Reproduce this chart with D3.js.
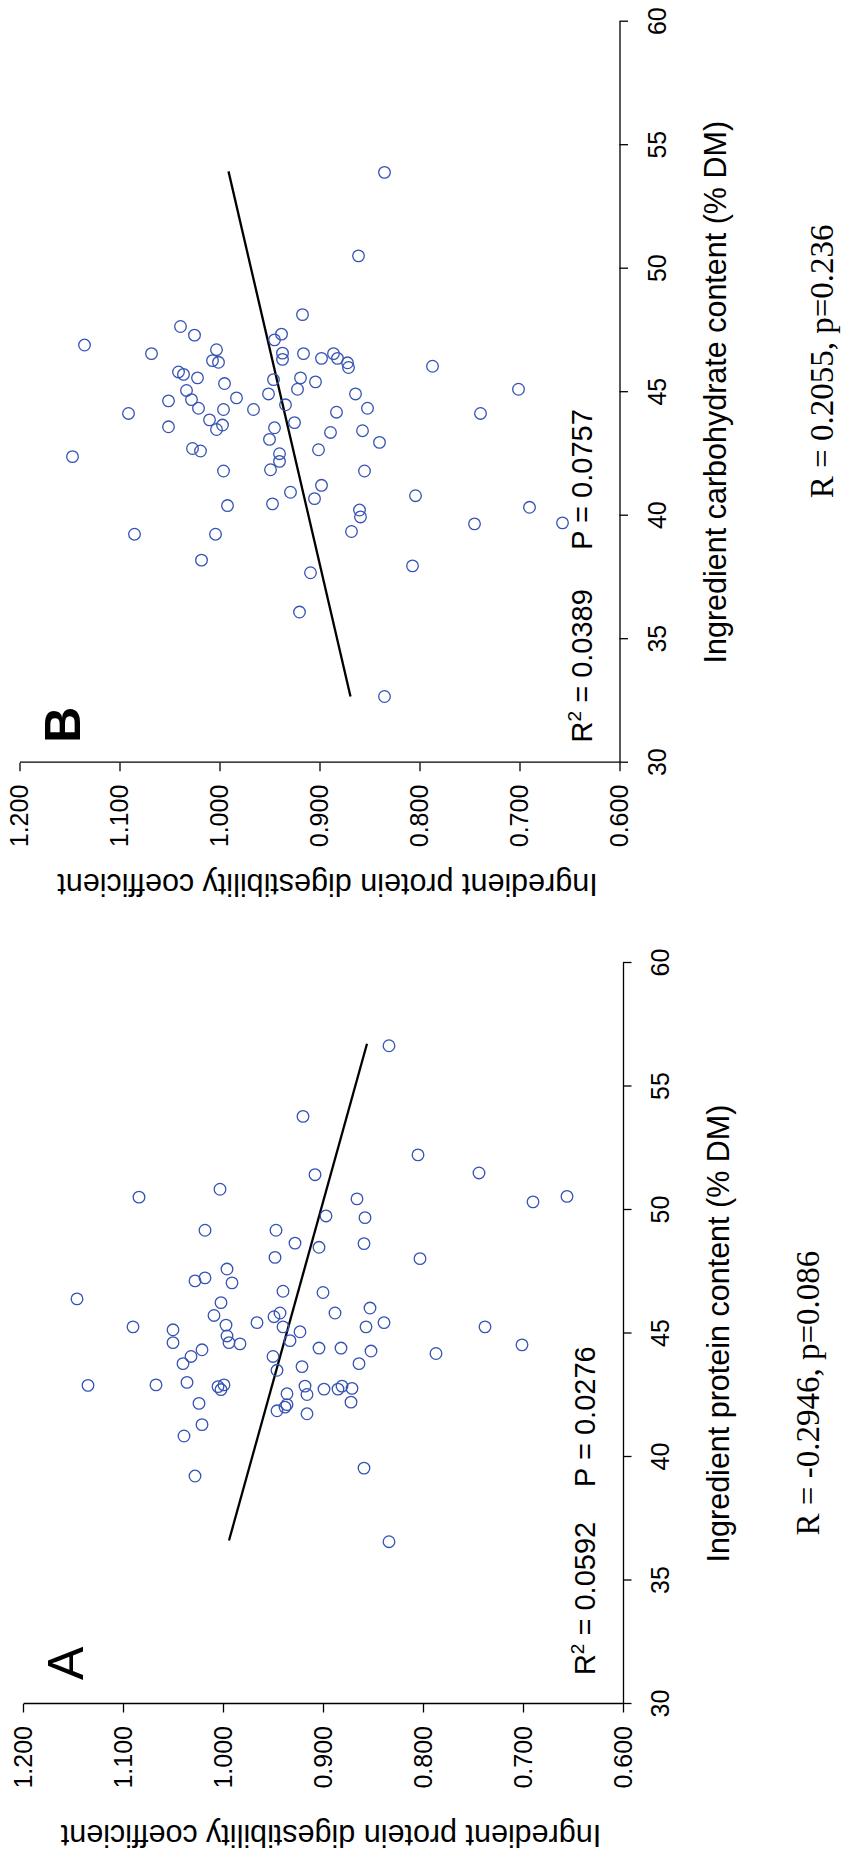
<!DOCTYPE html>
<html>
<head>
<meta charset="utf-8">
<title>Protein digestibility vs protein / carbohydrate content</title>
<script src="https://cdn.jsdelivr.net/npm/d3@7"></script>
<style>
  body { margin: 0; background: #fff; }
  text { font-family: "Liberation Sans", Arial, sans-serif; fill: #000; }
</style>
</head>
<body>
<div id="chart"></div>
<script>

// ---- data ----
var xTicks = [30, 35, 40, 45, 50, 55, 60];
var yTicks = [0.6, 0.7, 0.8, 0.9, 1.0, 1.1, 1.2];

// panel A: ingredient protein content (% DM) vs digestibility coefficient
var proteinA = [46.40, 42.90, 45.27, 50.52, 42.92, 45.15, 44.63, 43.78, 40.85, 43.02,
  44.07, 39.23, 47.13, 42.17, 44.34, 41.31, 49.18, 47.25, 45.73, 42.85,
  42.73, 50.84, 46.25, 42.92, 45.34, 47.61, 44.90, 44.63, 47.05, 44.58,
  45.44, 44.07, 48.08, 49.18, 45.68, 43.51, 41.87, 45.83, 46.71, 45.27,
  42.56, 42.12, 42.02, 44.71, 48.66, 45.07, 43.66, 53.79, 42.87, 42.53,
  41.75, 51.43, 48.49, 44.41, 46.66, 42.75, 49.76, 45.83, 42.75, 44.41,
  42.87, 42.22, 42.78, 50.45, 43.78, 48.64, 39.55, 49.69, 45.27, 46.03,
  44.29, 45.44, 56.65, 36.57, 48.03, 52.23, 44.19, 51.50, 45.27, 44.54,
  50.33, 50.55];
var digA = [1.146, 1.135, 1.090, 1.084, 1.067, 1.050, 1.050, 1.040, 1.039, 1.036,
  1.032, 1.028, 1.028, 1.024, 1.021, 1.021, 1.018, 1.018, 1.009, 1.005,
  1.002, 1.003, 1.002, 0.999, 0.997, 0.996, 0.996, 0.994, 0.991, 0.983,
  0.966, 0.950, 0.948, 0.947, 0.949, 0.946, 0.946, 0.943, 0.940, 0.940,
  0.936, 0.936, 0.938, 0.933, 0.928, 0.923, 0.921, 0.920, 0.918, 0.916,
  0.916, 0.908, 0.904, 0.904, 0.900, 0.899, 0.897, 0.888, 0.885, 0.882,
  0.881, 0.872, 0.871, 0.866, 0.864, 0.859, 0.859, 0.858, 0.857, 0.853,
  0.852, 0.839, 0.834, 0.834, 0.803, 0.805, 0.787, 0.744, 0.738, 0.701,
  0.690, 0.656];

// panel B: ingredient carbohydrate content (% DM) vs digestibility coefficient
var carbB = [42.39, 46.91, 44.14, 39.25, 46.56, 44.65, 43.60, 45.82, 47.66, 45.72,
  45.07, 44.70, 42.72, 47.31, 45.58, 44.35, 42.62, 38.20, 43.88, 46.28,
  46.72, 43.49, 39.25, 46.21, 43.67, 44.30, 41.81, 45.35, 40.41, 44.77,
  44.30, 44.93, 43.09, 41.86, 40.48, 45.51, 43.56, 47.12, 42.51, 42.20,
  47.35, 46.58, 46.33, 44.49, 40.95, 43.77, 45.12, 36.10, 45.58, 48.14,
  46.56, 37.69, 40.69, 45.42, 42.67, 46.37, 41.23, 43.37, 46.56, 44.19,
  46.37, 46.19, 46.00, 39.36, 44.93, 50.52, 40.23, 39.95, 43.44, 41.81,
  44.35, 42.97, 53.90, 32.68, 37.97, 40.81, 46.05, 39.67, 44.14, 45.12,
  40.34, 39.71];
var digB = [1.147, 1.135, 1.091, 1.085, 1.068, 1.051, 1.051, 1.041, 1.039, 1.036,
  1.033, 1.028, 1.027, 1.025, 1.022, 1.021, 1.019, 1.018, 1.010, 1.007,
  1.003, 1.003, 1.004, 1.001, 0.997, 0.996, 0.996, 0.995, 0.992, 0.983,
  0.966, 0.951, 0.950, 0.949, 0.947, 0.946, 0.945, 0.945, 0.940, 0.940,
  0.938, 0.937, 0.937, 0.934, 0.929, 0.925, 0.922, 0.920, 0.919, 0.917,
  0.916, 0.909, 0.905, 0.904, 0.901, 0.898, 0.898, 0.889, 0.886, 0.883,
  0.882, 0.872, 0.871, 0.868, 0.864, 0.861, 0.860, 0.859, 0.857, 0.855,
  0.852, 0.840, 0.835, 0.835, 0.807, 0.804, 0.787, 0.745, 0.739, 0.701,
  0.690, 0.657];

// fitted lines (end points as drawn)
var fitA = [[36.62, 0.994], [56.73, 0.856]];
var fitB = [[32.68, 0.869], [53.94, 0.991]];

var statsA = ["0.0592", "0.0276"];
var statsB = ["0.0389", "0.0757"];
var corrA = "R = -0.2946, p=0.086";
var corrB = "R = 0.2055, p=0.236";

// ---- drawing ----
var W = 845, H = 1854;
var plotW = 741, plotH = 600;   // unrotated plot size

var svg = d3.select("#chart").append("svg")
    .attr("width", W)
    .attr("height", H);

// each panel is a normal R style plot turned a quarter turn anticlockwise
var panels = [
  { letter: "B", bold: true, tx: 19.5, ty: 762.7, xs: carbB, ys: digB, fit: fitB, stats: statsB,
    r2At: 30.82, pAt: 38.62, corr: corrB, corrAt: 46.25, corrV: 813, ytitleV: -111,
    xtitle: "Ingredient carbohydrate content (% DM)" },
  { letter: "A", bold: false, tx: 23, ty: 1704, xs: proteinA, ys: digA, fit: fitA, stats: statsA,
    r2At: 31.17, pAt: 38.79, corr: corrA, corrAt: 42.59, corrV: 796, ytitleV: -121,
    xtitle: "Ingredient protein content (% DM)" }
];

panels.forEach(function(p) {
  var g = svg.append("g")
      .attr("transform", "translate(" + p.tx + "," + p.ty + ") rotate(-90)");

  var x = d3.scaleLinear().domain([30, 60]).range([0, plotW]);
  var y = d3.scaleLinear().domain([0.6, 1.2]).range([plotH, 0]);

  var xAxis = d3.axisBottom(x)
      .tickValues(xTicks)
      .tickSize(8.5)
      .tickSizeOuter(0)
      .tickPadding(20)
      .tickFormat(d3.format("d"));

  var yAxis = d3.axisLeft(y)
      .tickValues(yTicks)
      .tickSize(8.5)
      .tickSizeOuter(0)
      .tickPadding(13.5)
      .tickFormat(d3.format(".3f"));

  var gx = g.append("g")
      .attr("class", "x axis")
      .attr("transform", "translate(0," + plotH + ")")
      .call(xAxis);
  var gy = g.append("g")
      .attr("class", "y axis")
      .call(yAxis);

  [gx, gy].forEach(function(a) {
    a.selectAll("path, line").attr("stroke", "#000").attr("stroke-width", 1.3);
    a.selectAll("text")
      .attr("fill", "#000")
      .style("font-family", '"Liberation Sans", Arial, sans-serif')
      .style("font-size", "25px");
  });

  // regression line
  g.append("line")
      .attr("x1", x(p.fit[0][0])).attr("y1", y(p.fit[0][1]))
      .attr("x2", x(p.fit[1][0])).attr("y2", y(p.fit[1][1]))
      .attr("stroke", "#000")
      .attr("stroke-width", 2.3);

  // points
  g.selectAll(".dot")
      .data(d3.range(p.xs.length))
    .enter().append("circle")
      .attr("class", "dot")
      .attr("cx", function(i) { return x(p.xs[i]); })
      .attr("cy", function(i) { return y(p.ys[i]); })
      .attr("r", 5.8)
      .attr("fill", "none")
      .attr("stroke", "#3653b3")
      .attr("stroke-width", 1.3);

  // panel letter
  g.append("text")
      .attr("x", x(p.letter == "A" ? 30.97 : 30.81))
      .attr("y", 60)
      .style("font-size", "50px")
      .style("font-weight", p.bold ? "bold" : "normal")
      .text(p.letter);

  // R^2 and P
  var t = g.append("text")
      .attr("x", x(p.r2At))
      .attr("y", 572)
      .style("font-size", "29px");
  t.append("tspan").text("R");
  t.append("tspan").attr("dy", -11).style("font-size", "19px").text("2");
  t.append("tspan").attr("dy", 11).text(" = " + p.stats[0]);

  g.append("text")
      .attr("x", x(p.pAt))
      .attr("y", 572)
      .style("font-size", "29px")
      .text("P = " + p.stats[1]);

  // axis titles
  g.append("text")
      .attr("x", x(45))
      .attr("y", 706)
      .attr("text-anchor", "middle")
      .style("font-size", "30.5px")
      .text(p.xtitle);

  g.append("text")
      .attr("transform", "translate(" + p.ytitleV + "," + 308 + ") rotate(-90)")
      .attr("text-anchor", "middle")
      .style("font-size", "30.5px")
      .text("Ingredient protein digestibility coefficient");

  // correlation note under the plot
  g.append("text")
      .attr("x", x(p.corrAt))
      .attr("y", p.corrV)
      .attr("text-anchor", "middle")
      .style("font-family", '"Liberation Serif", "Times New Roman", serif')
      .style("font-size", "33px")
      .text(p.corr);
});

</script>
</body>
</html>
